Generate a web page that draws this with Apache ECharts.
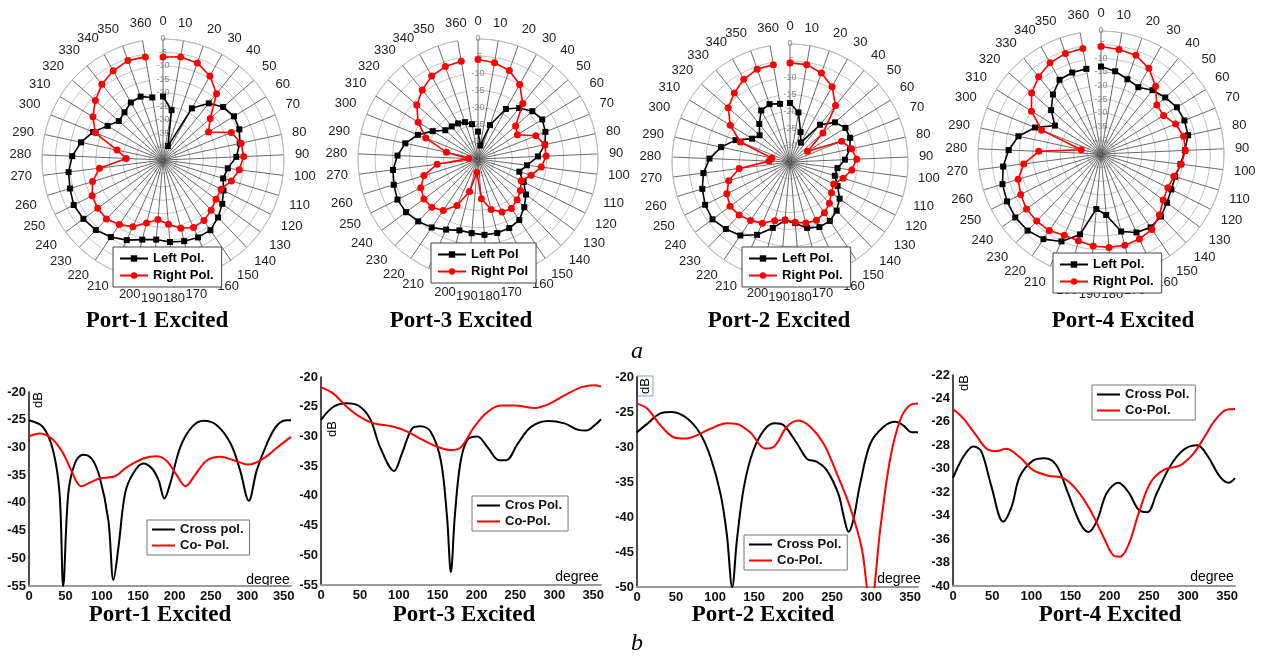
<!DOCTYPE html>
<html>
<head>
<meta charset="utf-8">
<script src="https://cdn.jsdelivr.net/npm/echarts@6/dist/echarts.min.js"></script>
<style>
html, body { margin: 0; padding: 0; background: #fff; }
#main { width: 1264px; height: 656px; }
</style>
</head>
<body>
<div id="main"></div>
<script>
// angle categories of the radar plots (0..360 step 10)
var angleLabels = ['0','10','20','30','40','50','60','70','80','90','100','110','120','130','140','150','160','170','180',
    '190','200','210','220','230','240','250','260','270','280','290','300','310','320','330','340','350','360'];

// Port-1 radar
var p1Left = [-21.4,-26.2,-39.5,-23.0,-17.9,-15.2,-14.0,-14.4,-15.8,-17.7,-20.7,-21.6,-19.8,-17.6,-15.4,-13.5,-13.4,-13.8,-14.4,
    -15.3,-14.4,-12.3,-10.4,-8.9,-8.2,-7.8,-8.8,-9.6,-11.2,-13.8,-17.0,-20.8,-23.1,-22.2,-20.5,-20.0,-21.4];
var p1Right = [-6.7,-6.1,-6.7,-9.2,-13.3,-21.6,-25.1,-17.6,-15.3,-15.0,-16.4,-18.4,-20.8,-20.5,-19.1,-17.8,-17.5,-18.8,-21.0,
    -22.8,-20.8,-17.8,-16.0,-14.6,-14.8,-15.5,-17.6,-21.2,-31.3,-27.5,-17.9,-14.4,-11.5,-8.8,-7.0,-5.8,-6.1];
// Port-3 radar
var p3Left = [-27.0,-31.0,-24.5,-18.3,-15.9,-13.9,-13.0,-13.8,-15.0,-17.5,-20.6,-22.4,-20.1,-17.6,-15.5,-13.5,-12.9,-12.7,-12.8,
    -13.3,-13.5,-12.4,-10.9,-9.8,-8.9,-8.7,-9.3,-10.0,-11.5,-13.3,-16.1,-19.5,-22.3,-22.8,-23.1,-23.6,-24.7];
var p3Right = [-6.0,-6.5,-7.6,-10.1,-14.2,-20.4,-21.5,-16.8,-15.1,-15.1,-16.4,-18.8,-20.9,-19.6,-18.5,-17.6,-18.0,-19.8,-23.4,
    -31.1,-25.2,-20.1,-16.9,-15.5,-15.4,-16.3,-18.5,-23.0,-32.3,-25.6,-18.6,-14.5,-11.2,-9.1,-7.3,-6.4,-6.1];
// Port-2 radar
var p2Left = [-17.5,-20.1,-25.6,-28.4,-20.8,-17.2,-15.7,-15.8,-16.8,-18.7,-20.8,-21.1,-19.2,-16.7,-15.0,-13.9,-13.8,-14.8,-16.8,
    -17.6,-14.8,-11.3,-8.7,-7.5,-6.4,-6.8,-7.8,-9.1,-11.1,-14.1,-17.6,-21.8,-23.0,-20.5,-17.5,-16.8,-17.5];
var p2Right = [-5.6,-5.7,-7.0,-9.4,-13.5,-22.0,-28.9,-18.5,-16.3,-15.2,-16.5,-18.5,-20.5,-19.7,-18.1,-16.8,-16.0,-16.3,-17.1,
    -17.8,-17.0,-15.1,-14.1,-13.2,-12.9,-14.0,-16.0,-19.8,-28.8,-29.5,-19.1,-14.2,-10.6,-8.7,-6.9,-5.8,-5.7];
// Port-4 radar
var p4Left = [-13.0,-14.3,-16.0,-17.0,-15.0,-13.7,-12.4,-12.1,-12.4,-14.3,-15.7,-16.6,-16.2,-15.0,-13.3,-12.6,-13.5,-15.7,-22.6,
    -24.8,-14.6,-9.9,-7.4,-6.2,-6.0,-6.5,-7.3,-8.9,-11.2,-14.1,-19.0,-25.2,-20.7,-17.0,-13.9,-13.4,-13.4];
var p4Right = [-5.7,-6.2,-6.7,-9.1,-13.2,-17.8,-18.1,-15.6,-14.1,-14.1,-15.4,-17.1,-17.6,-16.7,-14.1,-11.7,-10.9,-10.5,-10.7,
    -11.2,-12.2,-12.4,-11.2,-11.0,-11.1,-12.1,-13.3,-16.5,-22.2,-37.6,-21.6,-15.1,-11.2,-8.7,-6.8,-6.0,-5.8];

// b: Port-1 cuts
var b1CrossDeg = [0,19,33,42,47,54,63,74,86,97,109,116,123,132,143,157,169,178,186,194,208,224,240,258,277,290,302,313,327,341,355,360];
var b1Cross = [-25.1,-26.3,-30.5,-38.3,-55,-38.3,-32.9,-31.3,-32,-35.3,-43.1,-53.9,-47.9,-38.3,-34.7,-32.9,-33.8,-35.9,-39.2,-36.5,
    -29.9,-26.3,-25.2,-26,-29.3,-34.1,-39.6,-34.1,-29.3,-26,-25.1,-25.1];
var b1CoDeg = [0,15,33,47,58,72,84,97,118,134,157,175,189,203,215,228,244,263,281,302,322,341,360];
var b1Co = [-28,-27.5,-28.6,-31.1,-34.1,-37,-36.3,-35.6,-35.2,-33.6,-32,-31.6,-32.4,-35,-37,-35,-32.4,-31.7,-32.3,-33.1,-32,-30,-28.1];
// b: Port-3 cuts
var b3CrossDeg = [0,16,33,48,63,76,94,104,117,128,141,154,162,167,172,179,188,201,214,229,238,253,270,292,313,331,341,352,360];
var b3Cross = [-27.2,-25,-24.4,-24.8,-27,-31.8,-35.8,-32.9,-28.7,-28.3,-29.2,-34,-43.5,-52.8,-43.5,-34.6,-30.6,-30,-31.8,-34,-34,
    -31.2,-28.4,-27.4,-27.8,-28.9,-29,-28.1,-27.1];
var b3CoDeg = [0,16,33,50,68,91,111,128,145,167,180,197,214,231,249,275,292,313,335,352,360];
var b3Co = [-21.7,-22.8,-25,-26.7,-27.8,-28.3,-29.2,-30.4,-31.5,-32.3,-31.8,-28.4,-25.9,-24.8,-24.8,-25.2,-24.6,-23.1,-21.7,-21.4,-21.6];
// b: Port-2 cuts
var b2CrossDeg = [0,13,30,45,64,81,94,107,115,122,128,137,149,164,177,188,205,218,230,243,258,265,271,277,286,299,316,331,341,352,360];
var b2Cross = [-27.9,-26.7,-25.2,-25,-25.9,-28.1,-31.4,-36.7,-42.4,-50,-43.3,-35.7,-30.5,-27.4,-26.6,-26.9,-29.5,-31.7,-32.1,-33.3,
    -36.7,-40,-42.1,-40.5,-35.2,-29.5,-27.1,-26.4,-26.9,-27.9,-27.9];
var b2CoDeg = [0,13,30,47,62,77,94,115,128,145,164,175,192,207,222,239,256,273,288,299,312,324,337,350,360];
var b2Co = [-23.8,-24.5,-26.9,-28.6,-28.8,-28.3,-27.4,-26.6,-26.7,-27.9,-30.2,-30,-27.1,-26.2,-27.1,-29.5,-33.8,-38.6,-44.5,-53,
    -41.4,-31.9,-26.2,-24,-23.8];
// b: Port-4 cuts
var b4CrossDeg = [0,13,26,36,49,64,75,85,102,117,132,147,162,173,184,196,211,224,237,248,260,277,294,312,324,341,352,360];
var b4Cross = [-30.8,-29,-28.1,-28.5,-31.5,-34.5,-33.2,-30.7,-29.3,-29.1,-29.7,-32.1,-34.6,-35.4,-34.4,-32.1,-31.2,-32,-33.5,-33.7,
    -32.1,-29.8,-28.4,-28,-28.8,-30.7,-31.2,-30.8];
var b4CoDeg = [0,13,28,43,55,68,85,102,122,141,158,175,192,205,213,224,237,252,269,290,307,320,333,348,360];
var b4Co = [-24.9,-25.7,-27,-28.3,-28.5,-28.3,-29,-30.1,-30.6,-30.8,-31.8,-33.5,-35.8,-37.4,-37.5,-36.5,-33.8,-31.2,-30.1,-29.7,
    -28.7,-27.4,-26,-25,-24.9];

var chart = echarts.init(document.getElementById('main'));

var radars = [
    {center: [163, 160], r: 121, min: -45, left: p1Left, right: p1Right, names: ['Left Pol.', 'Right Pol.'], lg: [113, 247]},
    {center: [478, 159], r: 120, min: -35, left: p3Left, right: p3Right, names: ['Left Pol', 'Right Pol'], lg: [431, 243]},
    {center: [790, 162], r: 118, min: -35, left: p2Left, right: p2Right, names: ['Left Pol.', 'Right Pol.'], lg: [742, 247]},
    {center: [1101, 154], r: 123, min: -45, left: p4Left, right: p4Right, names: ['Left Pol.', 'Right Pol.'], lg: [1053, 253]}
];

var cuts = [
    {grid: [29, 392, 262, 194], y: [-55, -20, 5], cross: [b1CrossDeg, b1Cross], co: [b1CoDeg, b1Co],
        names: ['Cross pol.', 'Co- Pol.'], lg: [147, 520]},
    {grid: [321, 377, 280, 208], y: [-55, -20, 5], cross: [b3CrossDeg, b3Cross], co: [b3CoDeg, b3Co],
        names: ['Cros Pol.', 'Co-Pol.'], lg: [472, 496]},
    {grid: [637, 377, 281, 210], y: [-50, -20, 5], cross: [b2CrossDeg, b2Cross], co: [b2CoDeg, b2Co],
        names: ['Cross Pol.', 'Co-Pol.'], lg: [744, 535]},
    {grid: [953, 375, 282, 211], y: [-40, -22, 2], cross: [b4CrossDeg, b4Cross], co: [b4CoDeg, b4Co],
        names: ['Cross Pol.', 'Co-Pol.'], lg: [1092, 385]}
];

var polar = [], angleAxis = [], radiusAxis = [], grid = [], xAxis = [], yAxis = [], legend = [], series = [];

radars.forEach(function (p, k) {
    polar.push({center: p.center, radius: p.r});
    angleAxis.push({
        polarIndex: k, type: 'category', data: angleLabels, boundaryGap: false,
        startAngle: 90, clockwise: true,
        axisLine: {lineStyle: {color: '#bbb', width: 1}},
        axisTick: {show: false},
        axisLabel: {interval: 0, margin: 11, color: '#222', fontSize: 13, fontFamily: 'Liberation Sans, Arial'},
        splitLine: {show: true, lineStyle: {color: '#444', width: 0.8}}
    });
    radiusAxis.push({
        polarIndex: k, type: 'value', min: p.min, max: 0, interval: 5,
        axisLine: {show: false}, axisTick: {show: false},
        axisLabel: {color: '#888', fontSize: 9, margin: 0, align: 'center', fontFamily: 'Liberation Sans, Arial'},
        splitLine: {show: true, lineStyle: {color: '#c4c4c4', width: 1}}
    });
    series.push({
        name: p.names[0], type: 'line', coordinateSystem: 'polar', polarIndex: k,
        data: p.left.map(function (v, i) { return [v, angleLabels[i]]; }),
        symbol: 'rect', symbolSize: 6, color: '#000',
        lineStyle: {color: '#000', width: 1.6}, itemStyle: {color: '#000'}, z: 4
    });
    series.push({
        name: p.names[1], type: 'line', coordinateSystem: 'polar', polarIndex: k,
        data: p.right.map(function (v, i) { return [v, angleLabels[i]]; }),
        symbol: 'circle', symbolSize: 7, color: '#f00',
        lineStyle: {color: '#f00', width: 1.6}, itemStyle: {color: '#f00'}, z: 5
    });
    legend.push({
        data: p.names, orient: 'vertical', left: p.lg[0], top: p.lg[1],
        backgroundColor: '#fff', borderColor: '#444', borderWidth: 1, borderRadius: 0,
        padding: [5, 8, 5, 6], itemGap: 4, itemWidth: 28, itemHeight: 8,
        textStyle: {color: '#000', fontSize: 13, fontWeight: 'bold', fontFamily: 'Liberation Sans, Arial'}
    });
});

cuts.forEach(function (c, k) {
    grid.push({left: c.grid[0], top: c.grid[1], width: c.grid[2], height: c.grid[3]});
    xAxis.push({
        gridIndex: k, type: 'value', min: 0, max: 360, interval: 50,
        axisLine: {onZero: false, lineStyle: {color: '#999', width: 2}},
        axisTick: {show: false}, splitLine: {show: false},
        axisLabel: {showMaxLabel: false, margin: 4, color: '#111', fontSize: 13, fontWeight: 'bold', fontFamily: 'Liberation Sans, Arial'}
    });
    yAxis.push({
        gridIndex: k, type: 'value', min: c.y[0], max: c.y[1], interval: c.y[2],
        axisLine: {show: true, lineStyle: {color: '#111', width: 1.5}},
        axisTick: {show: false}, splitLine: {show: false},
        axisLabel: {margin: 3, color: '#111', fontSize: 13, fontWeight: 'bold', fontFamily: 'Liberation Sans, Arial'}
    });
    series.push({
        name: c.names[0], type: 'line', xAxisIndex: k, yAxisIndex: k, smooth: 0.35, symbol: 'none',
        data: c.cross[0].map(function (d, i) { return [d, c.cross[1][i]]; }),
        color: '#000', lineStyle: {color: '#000', width: 2}
    });
    series.push({
        name: c.names[1], type: 'line', xAxisIndex: k, yAxisIndex: k, smooth: 0.35, symbol: 'none',
        data: c.co[0].map(function (d, i) { return [d, c.co[1][i]]; }),
        color: '#f00', lineStyle: {color: '#f00', width: 2}
    });
    legend.push({
        data: c.names, orient: 'vertical', left: c.lg[0], top: c.lg[1],
        backgroundColor: '#fff', borderColor: '#777', borderWidth: 1, borderRadius: 0,
        padding: [3, 6, 3, 5], itemGap: 3, itemWidth: 23, itemHeight: 2, icon: 'rect',
        textStyle: {color: '#111', fontSize: 13, fontWeight: 'bold', fontFamily: 'Liberation Sans, Arial'}
    });
});

var serif = 'bold 23px "Liberation Serif", "Times New Roman", serif';
function txt(x, y, s, font, rot) {
    return {type: 'text', x: x, y: y, rotation: rot || 0,
        style: {text: s, font: font, fill: '#000', textAlign: 'center', textVerticalAlign: 'middle'}};
}
var graphics = [
    txt(157, 321, 'Port-1 Excited', serif), txt(461, 321, 'Port-3 Excited', serif),
    txt(779, 321, 'Port-2 Excited', serif), txt(1123, 321, 'Port-4 Excited', serif),
    txt(160, 615, 'Port-1 Excited', serif), txt(464, 615, 'Port-3 Excited', serif),
    txt(763, 615, 'Port-2 Excited', serif), txt(1110, 615, 'Port-4 Excited', serif),
    txt(637, 352, 'a', 'italic 24px "Liberation Serif", serif'),
    txt(637, 644, 'b', 'italic 24px "Liberation Serif", serif'),
    txt(38, 400, 'dB', '13px "Liberation Sans", Arial', Math.PI / 2),
    txt(332, 429, 'dB', '13px "Liberation Sans", Arial', Math.PI / 2),
    txt(645, 386, 'dB', '13px "Liberation Sans", Arial', Math.PI / 2),
    txt(964, 383, 'dB', '13px "Liberation Sans", Arial', Math.PI / 2),
    txt(268, 580, 'degree', '14px "Liberation Sans", Arial'),
    txt(577, 577, 'degree', '14px "Liberation Sans", Arial'),
    txt(899, 579, 'degree', '14px "Liberation Sans", Arial'),
    txt(1212, 577, 'degree', '14px "Liberation Sans", Arial'),
    {type: 'rect', shape: {x: 637, y: 376, width: 16, height: 20}, style: {fill: 'none', stroke: '#7a9be0', lineWidth: 1}}
];

chart.setOption({
    animation: false,
    backgroundColor: '#fff',
    polar: polar,
    angleAxis: angleAxis,
    radiusAxis: radiusAxis,
    grid: grid,
    xAxis: xAxis,
    yAxis: yAxis,
    legend: legend,
    series: series,
    graphic: {elements: graphics}
});
</script>
</body>
</html>
